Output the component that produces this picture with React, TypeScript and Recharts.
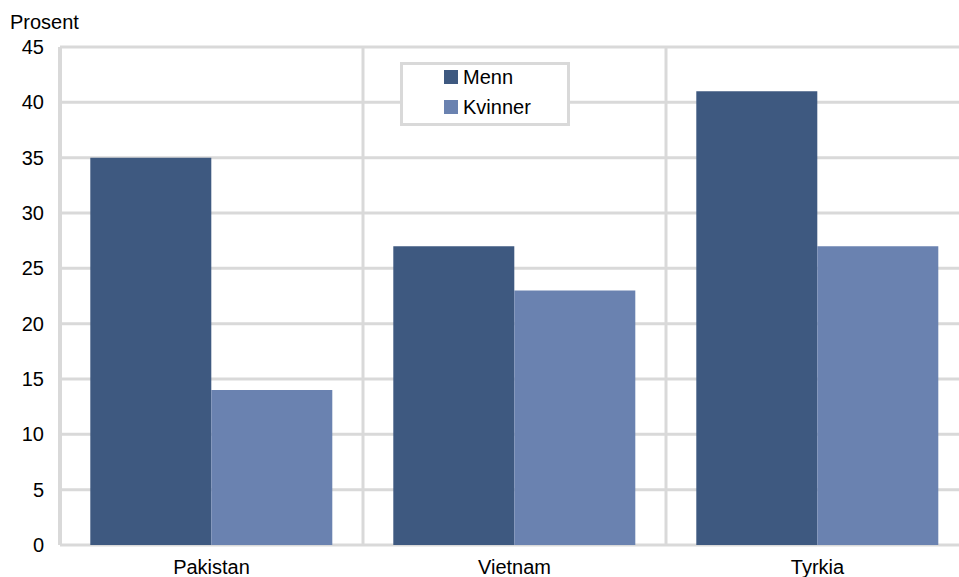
import React from 'react';
import {
  BarChart,
  Bar,
  XAxis,
  YAxis,
  CartesianGrid,
} from 'recharts';

const countries = ['Pakistan', 'Vietnam', 'Tyrkia'];
const menn = [35, 27, 41];
const kvinner = [14, 23, 27];
const yTicks = [0, 5, 10, 15, 20, 25, 30, 35, 40, 45];
const seriesNames = ['Menn', 'Kvinner'];

const MENN_COLOR = '#3e5980';
const KVINNER_COLOR = '#6a82b0';
const SERIES_COLORS = [MENN_COLOR, KVINNER_COLOR];
const GRID = '#d9d9d9';
const FONT = '"Liberation Sans", Arial, sans-serif';
const FS = 20;

const data = countries.map((c, i) => ({
  country: c,
  Menn: menn[i],
  Kvinner: kvinner[i],
}));

// Legend box drawn on top of the plot, like the original
function BoxLegend() {
  return (
    <div
      style={{
        position: 'absolute',
        left: 400,
        top: 62,
        boxSizing: 'border-box',
        width: 170,
        height: 64,
        border: `3px solid ${GRID}`,
        background: '#fff',
        paddingLeft: 41,
        zIndex: 2,
      }}
    >
      <div style={{ marginTop: -3 }}>
        {seriesNames.map((name, i) => (
          <div
            key={name}
            style={{
              display: 'flex',
              alignItems: 'center',
              height: 30,
              fontFamily: FONT,
              fontSize: FS,
              color: '#000',
            }}
          >
            <span
              style={{
                display: 'inline-block',
                width: 14,
                height: 14,
                background: SERIES_COLORS[i],
                marginRight: 5,
              }}
            />
            {name}
          </div>
        ))}
      </div>
    </div>
  );
}

export default function App() {
  return (
    <div
      style={{
        position: 'relative',
        width: 959,
        height: 577,
        background: '#fff',
      }}
    >
      <style>{'body{margin:0}'}</style>
      <div
        style={{
          position: 'absolute',
          left: 10,
          top: 11,
          fontFamily: FONT,
          fontSize: FS,
          color: '#000',
          zIndex: 2,
        }}
      >
        Prosent
      </div>
      <BoxLegend />
      <BarChart
        width={959}
        height={577}
        data={data}
        margin={{ top: 47, right: -10, bottom: 0, left: 0 }}
        barCategoryGap="10%"
        barGap={0}
      >
        <CartesianGrid
          stroke={GRID}
          strokeWidth={3}
          verticalCoordinatesGenerator={({ offset }: any) => [
            offset.left + offset.width / 3,
            offset.left + (2 * offset.width) / 3,
          ]}
        />
        <XAxis
          dataKey="country"
          height={32}
          tickLine={false}
          tickSize={6}
          tickMargin={9}
          axisLine={false}
          tick={{ fill: '#000', fontSize: FS, fontFamily: FONT }}
        />
        <YAxis
          width={60}
          domain={[0, 45]}
          ticks={yTicks}
          interval={0}
          tickLine={false}
          tickSize={0}
          tickMargin={16}
          axisLine={{ stroke: GRID, strokeWidth: 4 }}
          tick={{ fill: '#000', fontSize: FS, fontFamily: FONT }}
        />
        <Bar dataKey="Menn" fill={MENN_COLOR} isAnimationActive={false} />
        <Bar dataKey="Kvinner" fill={KVINNER_COLOR} isAnimationActive={false} />
        {/* darker baseline over the bar bottoms */}
        <XAxis
          xAxisId="base"
          dataKey="country"
          height={0}
          tick={false}
          tickLine={false}
          axisLine={{ stroke: '#c6c6c6', strokeWidth: 4 }}
        />
      </BarChart>
    </div>
  );
}
